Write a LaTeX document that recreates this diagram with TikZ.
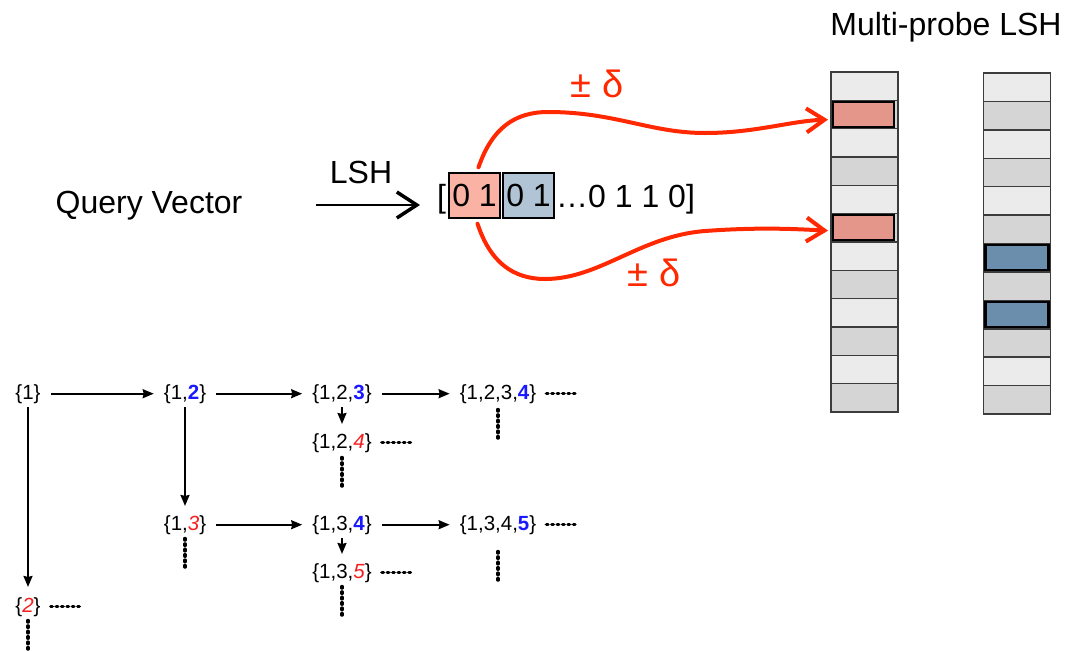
\documentclass[tikz,border=0pt]{standalone}
\usepackage{fontspec}
\setmainfont{Liberation Sans}
\usetikzlibrary{arrows.meta}
\definecolor{probe}{RGB}{255,40,0}
\definecolor{cellA}{RGB}{235,235,235}
\definecolor{cellB}{RGB}{213,213,213}
\definecolor{cellline}{RGB}{60,60,60}
\definecolor{hitred}{RGB}{228,150,138}
\definecolor{hitblue}{RGB}{108,142,173}
\definecolor{keyred}{RGB}{250,178,165}
\definecolor{keyblue}{RGB}{176,196,214}
\definecolor{addblue}{RGB}{25,25,255}
\definecolor{swapred}{RGB}{245,30,30}
\newcommand{\addd}[1]{\textcolor{addblue}{\textbf{#1}}}
\newcommand{\swp}[1]{\textcolor{swapred}{\textit{#1}}}
\begin{document}
\begin{tikzpicture}[x=1pt,y=-1pt,
  big/.style={font=\fontsize{32}{38}\selectfont, inner sep=0pt},
  redlabel/.style={font=\fontsize{38}{44}\selectfont, inner sep=0pt, text=probe},
  keybox/.style={big, draw=black, line width=1.3pt, minimum width=51pt, minimum height=45pt},
  cell/.style={draw=cellline, line width=1.5pt, minimum width=67pt, minimum height=28.4pt, inner sep=0pt, outer sep=0pt},
  hit/.style={draw=black, line width=2.2pt, minimum width=61pt, minimum height=25pt, inner sep=0pt},
  probearrow/.style={draw=probe, line width=4pt, line cap=round, line join=round,
    -{Straight Barb[length=18pt,width=24pt]}},
  set/.style={font=\fontsize{20.5}{24}\selectfont, inner xsep=10pt, inner ysep=4pt, anchor=base},
  treearrow/.style={line width=1.8pt, -{Stealth[length=11pt,width=9pt,inset=1pt]}},
  more/.style={line width=3.4pt, line cap=round, dash pattern=on 1.6pt off 3.8pt}
]
\useasboundingbox (0,0) rectangle (1068,651);

% ---- query and its hash key ----
\node[big, anchor=base] (qv) at (149,213) {Query Vector};
\node[big, anchor=base] (lshlabel) at (361,183) {LSH};
\node[big, anchor=base west] (lb) at (437,207) {[};
\node[keybox, fill=keyred] (k1) at (474.5,195.5) {0 1};
\node[keybox, fill=keyblue] (k2) at (528.5,195.5) {0 1};
\node[big, anchor=base west] (rest) at (556,207) {\char"2026 0 1 1 0]};
\coordinate (qa) at (316,205);
\draw[line width=2pt, -{Straight Barb[length=20pt,width=26pt,line width=3.5pt]}, shorten >=17pt]
  (qa) -- (qa -| lb.west);

% ---- hash tables ----
\node[big, anchor=base] (mp) at (946,35) {Multi-probe LSH};
\foreach \i in {1,...,12} {
  \pgfmathsetmacro{\yc}{72+(\i-0.5)*28.33}
  \pgfmathsetmacro{\yd}{73+(\i-0.5)*28.42}
  \ifodd\i \def\cc{cellA}\else\def\cc{cellB}\fi
  \node[cell, fill=\cc] (l\i) at (864.5,\yc) {};
  \node[cell, fill=\cc] (r\i) at (1017,\yd) {};
}
\node[hit, fill=hitred] (h1) at ([xshift=-1pt]l2) {};
\node[hit, fill=hitred] (h2) at ([xshift=-1pt]l6) {};
\node[hit, fill=hitblue, minimum width=63pt] (h3) at (r7) {};
\node[hit, fill=hitblue, minimum width=63pt] (h4) at (r9) {};

% ---- perturbed probes ----
\draw[probearrow, shorten >=3pt]
  ([xshift=4pt,yshift=5pt]k1.north) .. controls (492,128) and (515,112) .. (548,112)
  .. controls (615,112) and (650,133) .. (705,133)
  .. controls (755,133) and (790,121) .. ([yshift=-5pt]l2.west);
\draw[probearrow, shorten >=3pt]
  ([xshift=3pt,yshift=-5pt]k1.south) .. controls (490,262) and (513,279) .. (545,279)
  .. controls (600,279) and (640,236) .. (705,231)
  .. controls (760,227) and (795,229) .. ([yshift=-3pt]l6.west);
\node[redlabel, anchor=base] (d1) at (597,97) {± δ};
\node[redlabel, anchor=base] (d2) at (654,286) {± δ};

% ---- probing sequence tree ----
\node[set] (s1)    at (28,399)  {\{1\}};
\node[set] (s12)   at (185,399) {\{1,\addd{2}\}};
\node[set] (s123)  at (342,399) {\{1,2,\addd{3}\}};
\node[set] (s1234) at (498,399) {\{1,2,3,\addd{4}\}};
\node[set] (s124)  at (342,448) {\{1,2,\swp{4}\}};
\node[set] (s13)   at (185,530) {\{1,\swp{3}\}};
\node[set] (s134)  at (342,530) {\{1,3,\addd{4}\}};
\node[set] (s1345) at (498,530) {\{1,3,4,\addd{5}\}};
\node[set] (s135)  at (342,578) {\{1,3,\swp{5}\}};
\node[set] (s2)    at (28,612)  {\{\swp{2}\}};

\draw[treearrow] (s1) -- (s12);
\draw[treearrow] (s12) -- (s123);
\draw[treearrow] (s123) -- (s1234);
\draw[treearrow, shorten >=5pt] (s123.south) -- (s124.north);
\draw[treearrow, shorten >=6pt] (s1.south) -- (s2.north);
\draw[treearrow, shorten >=5pt] (s12.south) -- (s13.north);
\draw[treearrow] (s13) -- (s134);
\draw[treearrow] (s134) -- (s1345);
\draw[treearrow, shorten >=5pt] (s134.south) -- (s135.north);

% continuation marks
\foreach \n in {s1234,s124,s1345,s135,s2} {
  \coordinate (\n-h) at ([xshift=30pt]\n.east);
  \draw[more] (\n.east) -- (\n-h);
}
\foreach \n/\a/\b in {s1234/2/32,s124/1/31,s13/0/30,s1345/13/44,s135/0/30,s2/0/30} {
  \coordinate (\n-a) at ([yshift=-\a pt]\n.south);
  \coordinate (\n-v) at ([yshift=-\b pt]\n.south);
  \draw[more] (\n-a) -- (\n-v);
}
\end{tikzpicture}
\end{document}
